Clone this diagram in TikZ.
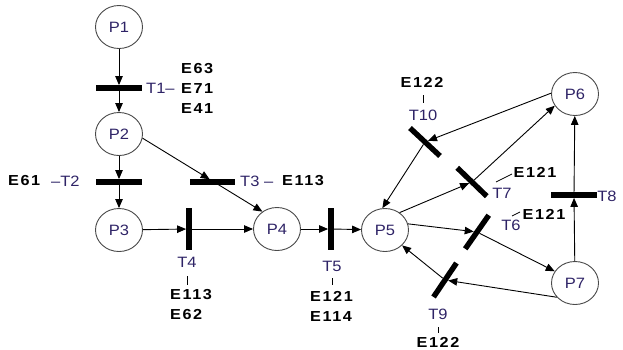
\documentclass[tikz,border=0pt]{standalone}
\usepackage{fontspec}
\setmainfont{Liberation Sans}[FakeStretch=1.1]
\newfontfamily\efont{Liberation Sans}[LetterSpace=11,FakeStretch=1.12]
\usetikzlibrary{shapes.geometric,arrows.meta}
\definecolor{labcol}{HTML}{2E2366}
\definecolor{ringcol}{HTML}{4A4A4A}
\tikzset{
  place/.style={ellipse, draw=ringcol, line width=0.9pt, minimum width=47pt,
    minimum height=43pt, inner sep=0pt, text=labcol,
    font=\fontsize{15}{17}\selectfont},
  hbar/.style={fill=black, inner sep=0pt, minimum width=46pt, minimum height=5.4pt},
  vbar/.style={fill=black, inner sep=0pt, minimum width=5.4pt, minimum height=42pt},
  dbar/.style={fill=black, inner sep=0pt, minimum width=41pt, minimum height=5.4pt},
  tlab/.style={text=labcol, inner sep=0pt, font=\fontsize{15}{17}\selectfont},
  elab/.style={inner sep=0pt, align=left,
    font=\efont\bfseries\fontsize{14.5}{20}\selectfont},
  arc/.style={draw=black, line width=0.9pt,
    -{Triangle[length=9pt,width=7.5pt]}},
  tick/.style={draw=black, line width=0.7pt},
}
\begin{document}
\begin{tikzpicture}[x=1pt,y=-1pt]
\useasboundingbox (0,0) rectangle (623,349);

% places
\node[place] (P1) at (119,27)  {P1};
\node[place] (P2) at (119,134) {P2};
\node[place] (P3) at (119,230) {P3};
\node[place] (P4) at (277,229) {P4};
\node[place] (P5) at (385,230) {P5};
\node[place] (P6) at (575,94)  {P6};
\node[place] (P7) at (575,283) {P7};

% transitions
\node[hbar] (T1) at (119,88)  {};
\node[hbar] (T2) at (119,182) {};
\node[hbar, minimum width=45pt] (T3) at (212,182) {};
\node[vbar] (T4) at (189,229) {};
\node[vbar] (T5) at (331,229) {};
\node[dbar, rotate=55]  (T6)  at (477,232) {};
\node[dbar, rotate=-44] (T7)  at (472,182) {};
\node[hbar] (T8) at (574,195) {};
\node[dbar, rotate=56]  (T9)  at (445,280) {};
\node[dbar, rotate=-43] (T10) at (425,142) {};

% arcs
\draw[arc] (P1) -- (T1);
\draw[arc] (T1) -- (P2);
\draw[arc] (P2) -- (T2);
\draw[arc] (T2) -- (P3);
\path (P2.-10) -- (P4.130) coordinate[pos=0.56] (T3in);
\draw[arc] (P2.-10) -- (T3in);
\draw[arc] (T3in) -- (P4.130);
\draw[arc] (P3) -- (T4);
\draw[arc] (T4) -- (P4);
\draw[arc] (P4) -- (T5);
\draw[arc] (T5) -- (P5);
\draw[arc] (P5.50) -- (T7);
\draw[arc] (T7) -- (P6.210);
\draw[arc] (P6.178) -- (T10);
\draw[arc] (T10) -- (P5.97);
\draw[arc] (P5.15) -- (T6);
\draw[arc] (T6) -- (P7.150);
\draw[arc] (P7.218) -- (T9);
\draw[arc] (T9) -- (P5.-42);
\draw[arc] (P7) -- (T8);
\draw[arc] (T8) -- (P6);

% transition labels and events
\node[tlab, anchor=west] (T1l) at (146,88) {T1–};
\node[elab, anchor=west] (T1e) at (181,88) {E63\\E71\\E41};

\node[elab, anchor=west] (T2e) at (8,181) {E61};
\node[tlab, anchor=west] (T2l) at (51,181) {–T2};

\node[tlab, anchor=west] (T3l) at (240,181) {T3 –};
\node[elab, anchor=west] (T3e) at (282,181) {E113};

\node[tlab] (T4l) at (187,262) {T4};
\node[elab, anchor=north west] (T4e) at (170,289) {E113\\E62};
\draw[tick] (187,276) -- (187,285);

\node[tlab] (T5l) at (332,266) {T5};
\node[elab, anchor=north west] (T5e) at (310,291) {E121\\E114};
\draw[tick] (332,278) -- (332,285);

\node[elab] (T10e) at (422,82) {E122};
\node[tlab] (T10l) at (423,115) {T10};
\draw[tick] (423,95) -- (423,103);

\node[tlab] (T7l) at (502,193) {T7};
\node[elab] (T7e) at (535,172) {E121};
\draw[tick] (496,182) -- (512,174);

\node[tlab] (T6l) at (511,225) {T6};
\node[elab] (T6e) at (544,214) {E121};
\draw[tick] (512,216) -- (520,212);

\node[tlab] (T8l) at (607,196) {T8};

\node[tlab] (T9l) at (438,314) {T9};
\node[elab] (T9e) at (438,342) {E122};
\draw[tick] (438,327) -- (438,333);
\end{tikzpicture}
\end{document}
